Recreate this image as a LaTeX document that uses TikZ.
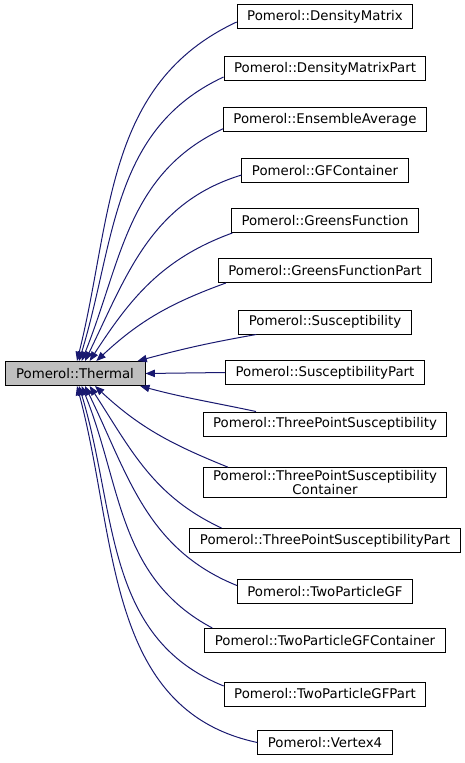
\documentclass[tikz,border=0pt]{standalone}
\usepackage{fontspec}
\setmainfont{DejaVu Sans}
\usepackage{xcolor}
\usetikzlibrary{arrows.meta, positioning}
\definecolor{edgeblue}{RGB}{25,25,112}
\definecolor{basegray}{RGB}{191,191,191}

\begin{document}
\begin{tikzpicture}[x=0.75pt, y=0.75pt, font=\fontsize{10}{10.5}\selectfont]

  % styles
  \tikzstyle{classbox} = [rectangle, draw=black, line width=0.75pt, fill=white, minimum height=18pt, inner xsep=7.5pt, inner ysep=2pt, align=center]
  \tikzstyle{basebox} = [classbox, fill=basegray, minimum width=105pt]
  \tikzstyle{inherit} = [draw=edgeblue, line width=0.75pt, {Triangle[length=7pt, width=5.5pt, fill=edgeblue]}-]

  \useasboundingbox (0,0) rectangle (464,-763);

  % base class
  \node (thermal) [basebox] at (75,-373.5) {Pomerol::Thermal};

  % derived classes
  \node (dm) [classbox] at (325,-17) {Pomerol::DensityMatrix};
  \node (dmp) [classbox] at (325,-69) {Pomerol::DensityMatrixPart};
  \node (ea) [classbox] at (325,-119.5) {Pomerol::EnsembleAverage};
  \node (gfc) [classbox] at (325,-170.5) {Pomerol::GFContainer};
  \node (gf) [classbox] at (325,-220.5) {Pomerol::GreensFunction};
  \node (gfp) [classbox] at (325,-270.5) {Pomerol::GreensFunctionPart};
  \node (susc) [classbox] at (325,-322) {Pomerol::Susceptibility};
  \node (suscp) [classbox] at (325,-372.5) {Pomerol::SusceptibilityPart};
  \node (tps) [classbox] at (325,-424) {Pomerol::ThreePointSusceptibility};
  \node (tpsc) [classbox] at (325,-482.5) {Pomerol::ThreePointSusceptibility\\Container};
  \node (tpsp) [classbox] at (325,-540.5) {Pomerol::ThreePointSusceptibilityPart};
  \node (tpgf) [classbox] at (325,-591.5) {Pomerol::TwoParticleGF};
  \node (tpgfc) [classbox] at (325,-640.5) {Pomerol::TwoParticleGFContainer};
  \node (tpgfp) [classbox] at (325,-694) {Pomerol::TwoParticleGFPart};
  \node (vertex) [classbox] at (325,-742.5) {Pomerol::Vertex4};

  % edges above
  \draw [inherit] ([xshift=1.5pt]thermal.north) to[out=76, in=205] ([yshift=-3.75pt]dm.west);
  \draw [inherit] ([xshift=3pt]thermal.north) to[out=73, in=205] ([yshift=-6pt]dmp.west);
  \draw [inherit] ([xshift=5pt]thermal.north) to[out=68, in=205] ([yshift=-7pt]ea.west);
  \draw [inherit] ([xshift=7.5pt]thermal.north) to[out=64, in=197] ([yshift=-3.4pt]gfc.west);
  \draw [inherit] ([xshift=11pt]thermal.north) to[out=57, in=200] ([xshift=1pt]gf.south west);
  \draw [inherit] ([xshift=16pt]thermal.north) to[out=43, in=200] ([xshift=6pt]gfp.south west);
  \draw [inherit] ([xshift=-6pt]thermal.north east) to[out=15, in=190] ([xshift=13.5pt]susc.south west);

  % straight edge
  \draw [inherit] (thermal.east) -- (suscp.west);

  % edges below
  \draw [inherit] ([xshift=-4pt]thermal.south east) to[out=-15, in=168] ([xshift=40pt]tps.north west);
  \draw [inherit] ([xshift=15pt]thermal.south) to[out=-43, in=158] ([xshift=19pt]tpsc.north west);
  \draw [inherit] ([xshift=11pt]thermal.south) to[out=-57, in=155] ([xshift=24pt]tpsp.north west);
  \draw [inherit] ([xshift=7.5pt]thermal.south) to[out=-64, in=158] ([yshift=4.5pt]tpgf.west);
  \draw [inherit] ([xshift=5pt]thermal.south) to[out=-68, in=152] ([xshift=6pt]tpgfc.north west);
  \draw [inherit] ([xshift=3pt]thermal.south) to[out=-73, in=158] ([yshift=6pt]tpgfp.west);
  \draw [inherit] ([xshift=1.5pt]thermal.south) to[out=-75, in=168] (vertex.west);

\end{tikzpicture}
\end{document}
